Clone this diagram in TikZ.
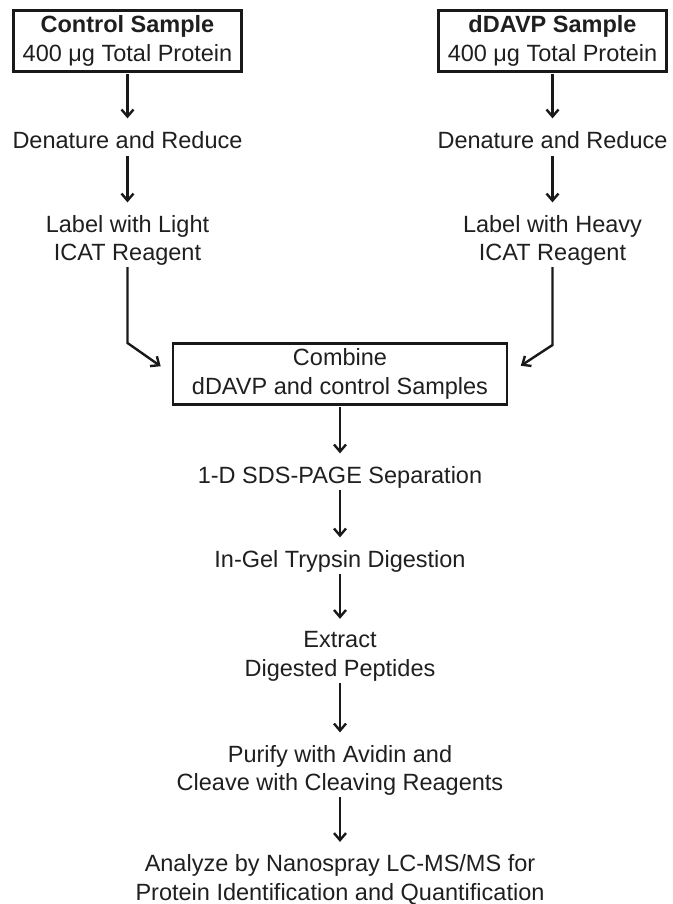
\documentclass[tikz,border=0pt]{standalone}
\usepackage{fontspec}
\setmainfont{Liberation Sans}
\usetikzlibrary{arrows.meta}
\usetikzlibrary{positioning}

\begin{document}
\begin{tikzpicture}[
      x=1pt, y=-1pt,
      every node/.style={font=\fontsize{23.5}{28.5}\selectfont, text=black!88, inner sep=0pt, align=center},
      sample/.style={rectangle, draw=black!90, line width=2.5pt, minimum width=228pt, minimum height=61pt},
      flow/.style={draw=black!90, line width=2.4pt, -{Straight Barb[length=7pt,width=12pt]}, shorten >=12.5pt, shorten <=1.5pt},
  ]
  \useasboundingbox (0,0) rectangle (672,904);

  % Samples
  \node[sample] (ctrl) at (127.5,41) {\textbf{Control Sample}\\400 μg Total Protein};
  \node[sample] (ddavp) at (552.5,41) {\textbf{dDAVP Sample}\\400 μg Total Protein};

  % control branch
  \node (ctrldenat) at (127.5,139.7) {Denature and Reduce};
  \node (ctrllabel) at (127.5,240.3) {Label with Light\\ICAT Reagent};
  \coordinate (ctrlbend) at (127.5,343);

  % dDAVP branch
  \node (ddavpdenat) at (552.5,139.7) {Denature and Reduce};
  \node (ddavplabel) at (552.5,240.3) {Label with Heavy\\ICAT Reagent};
  \coordinate (ddavpbend) at (552.5,345);

  % combined
  \node[sample, minimum width=334pt] (combine) at (340,374) {Combine\\dDAVP and control Samples};
  \node (sds) at (340,477) {1-D SDS-PAGE Separation};
  \node (digest) at (340,561) {In-Gel Trypsin Digestion};
  \node (extract) at (340,656.3) {Extract\\Digested Peptides};
  \node (purify) at (340,770.3) {Purify with Avidin and\\Cleave with Cleaving Reagents};
  \node (analyze) at (340,879.6) {Analyze by Nanospray LC-MS/MS for\\Protein Identification and Quantification};

  % arrows
  \draw[flow] (ctrl) -- (ctrldenat);
  \draw[flow, shorten <=7pt] (ctrldenat) -- (ctrllabel);
  \draw[flow, shorten >=13.5pt] (ctrllabel) -- (ctrlbend) -- (combine.west);

  \draw[flow] (ddavp) -- (ddavpdenat);
  \draw[flow, shorten <=7pt] (ddavpdenat) -- (ddavplabel);
  \draw[flow, shorten >=15pt] (ddavplabel) -- (ddavpbend) -- (combine.east);

  \draw[flow] (combine) -- (sds);
  \draw[flow] (sds) -- (digest);
  \draw[flow] (digest) -- (extract);
  \draw[flow] (extract) -- (purify);
  \draw[flow] (purify) -- (analyze);
\end{tikzpicture}
\end{document}
